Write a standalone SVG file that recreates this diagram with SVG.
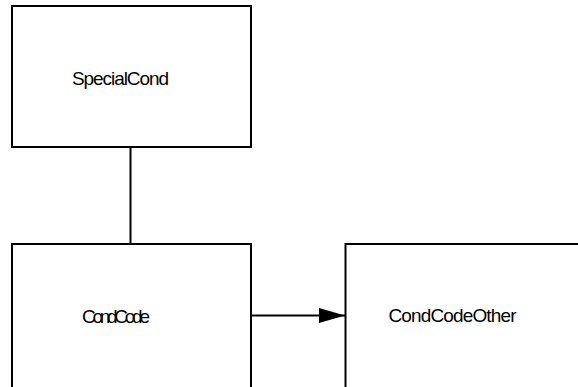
<svg xmlns="http://www.w3.org/2000/svg" width="578" height="387" viewBox="0 0 578 387">
<style>
.box{fill:#fff;stroke:#000;stroke-width:2}
.lbl{font-family:"Liberation Sans",Arial,sans-serif;font-size:19px;fill:#000}
.conn{stroke:#000;stroke-width:2;fill:none}
</style>
<defs>
<marker id="arr" markerWidth="26" markerHeight="16" refX="26" refY="8" orient="auto" markerUnits="userSpaceOnUse">
<path d="M0,0.5 L26,8 L0,15.5 Z" fill="#000"/>
</marker>
</defs>
<rect width="578" height="387" fill="#fff"/>
<g id="connectors">
<line class="conn" x1="130.5" y1="147" x2="130.5" y2="244"/>
<line class="conn" x1="251" y1="315.5" x2="345" y2="315.5" marker-end="url(#arr)"/>
</g>
<g id="SpecialCond">
<rect class="box" x="12" y="6" width="239" height="141"/>
<text class="lbl" x="72" y="85" textLength="97">SpecialCond</text>
</g>
<g id="CondCode">
<rect class="box" x="12" y="244" width="239" height="200"/>
<text class="lbl" x="82" y="322.5" textLength="68">CondCode</text>
</g>
<g id="CondCodeOther">
<rect class="box" x="345.5" y="244" width="300" height="200"/>
<text class="lbl" x="388.5" y="322" textLength="128">CondCodeOther</text>
</g>
</svg>
